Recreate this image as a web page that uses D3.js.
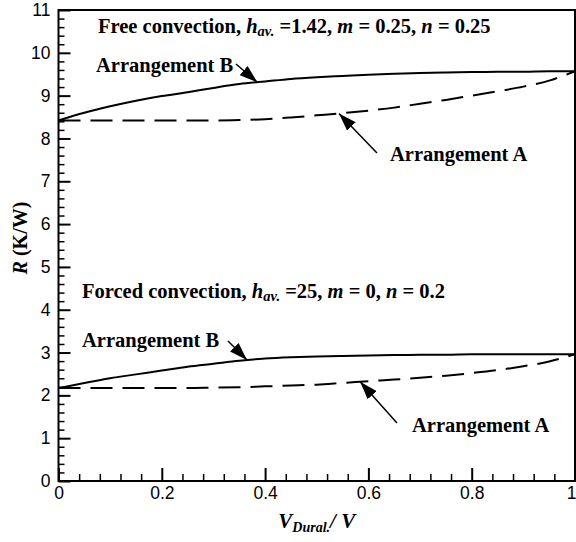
<!DOCTYPE html>
<html>
<head>
<meta charset="utf-8">
<script src="https://cdn.jsdelivr.net/npm/d3@7"></script>
<style>
  html, body { margin: 0; padding: 0; background: #fff; }
  svg { display: block; }
  .tick text { font-family: "Liberation Sans", Arial, sans-serif; font-size: 17.5px; fill: #000; }
  .serif { font-family: "Liberation Serif", "Times New Roman", serif; font-weight: bold; fill: #000; }
</style>
</head>
<body>
<svg id="chart" width="576" height="542"></svg>
<script>
// Volume fraction of Dural in the assembly
const fraction = [0, 0.05, 0.1, 0.15, 0.2, 0.25, 0.3, 0.35, 0.4, 0.45, 0.5, 0.55, 0.6, 0.65, 0.7, 0.75, 0.8, 0.85, 0.9, 0.95, 1.0];

// Thermal resistance R (K/W), free convection
const freeB = [8.42, 8.60, 8.75, 8.88, 8.99, 9.08, 9.18, 9.27, 9.33, 9.39, 9.43, 9.46, 9.49, 9.51, 9.53, 9.54, 9.55, 9.56, 9.56, 9.57, 9.57];
const freeA = [8.42, 8.42, 8.42, 8.42, 8.42, 8.42, 8.42, 8.43, 8.45, 8.49, 8.54, 8.59, 8.65, 8.72, 8.81, 8.90, 9.00, 9.10, 9.21, 9.35, 9.57];

// Thermal resistance R (K/W), forced convection
const forcedB = [2.17, 2.29, 2.40, 2.49, 2.58, 2.67, 2.74, 2.81, 2.86, 2.89, 2.91, 2.92, 2.93, 2.94, 2.95, 2.95, 2.96, 2.96, 2.96, 2.96, 2.96];
const forcedA = [2.17, 2.17, 2.17, 2.17, 2.17, 2.17, 2.18, 2.19, 2.21, 2.23, 2.25, 2.29, 2.33, 2.37, 2.41, 2.46, 2.52, 2.59, 2.68, 2.79, 2.96];

const xTicks = [0, 0.2, 0.4, 0.6, 0.8, 1];
const xTickLabels = ["0", "0.2", "0.4", "0.6", "0.8", "1"];
const yTicks = [0, 1, 2, 3, 4, 5, 6, 7, 8, 9, 10, 11];

const svg = d3.select("#chart");
const margin = { left: 58.5, right: 1, top: 10, bottom: 61 };
const W = 576, H = 542;

const x = d3.scaleLinear().domain([0, 1]).range([margin.left, W - margin.right]);
const y = d3.scaleLinear().domain([0, 11]).range([H - margin.bottom, margin.top]);

// Minor ticks (inward)
const xMinor = d3.range(0, 1.0001, 0.04).filter(v => Math.abs(v / 0.2 - Math.round(v / 0.2)) > 1e-6);
const yMinor = d3.range(0, 11.0001, 0.2).filter(v => Math.abs(v - Math.round(v)) > 1e-6);

svg.append("g")
  .attr("transform", `translate(0,${y(0)})`)
  .call(d3.axisBottom(x).tickValues(xMinor).tickSize(-7).tickFormat(""))
  .call(g => g.select(".domain").remove())
  .call(g => g.selectAll("line").attr("stroke-width", 1.5));

svg.append("g")
  .attr("transform", `translate(${x(0)},0)`)
  .call(d3.axisLeft(y).tickValues(yMinor).tickSize(-6).tickFormat(""))
  .call(g => g.select(".domain").remove())
  .call(g => g.selectAll("line").attr("stroke-width", 1.5));

// Major ticks with labels
svg.append("g")
  .attr("transform", `translate(0,${y(0)})`)
  .call(d3.axisBottom(x).tickValues(xTicks).tickSize(-13).tickPadding(6)
    .tickFormat((d, i) => xTickLabels[i]))
  .call(g => g.select(".domain").remove())
  .call(g => g.selectAll("line").attr("stroke-width", 2))
  .call(g => g.selectAll(".tick:last-of-type text").attr("text-anchor", "end").attr("dx", 1));

svg.append("g")
  .attr("transform", `translate(${x(0)},0)`)
  .call(d3.axisLeft(y).tickValues(yTicks).tickSize(-12).tickPadding(8).tickFormat(d3.format("d")))
  .call(g => g.select(".domain").remove())
  .call(g => g.selectAll("line").attr("stroke-width", 2));

// Plot frame
svg.append("rect")
  .attr("x", x(0)).attr("y", y(11))
  .attr("width", x(1) - x(0)).attr("height", y(0) - y(11))
  .attr("fill", "none").attr("stroke", "#000").attr("stroke-width", 2);

// Curves
const line = d3.line().x((d, i) => x(fraction[i])).y(d => y(d)).curve(d3.curveMonotoneX);
const series = [
  { values: freeB, dash: null },
  { values: freeA, dash: "22,10" },
  { values: forcedB, dash: null },
  { values: forcedA, dash: "22,10" }
];
svg.append("g").selectAll("path").data(series).join("path")
  .attr("d", d => line(d.values))
  .attr("fill", "none")
  .attr("stroke", "#000")
  .attr("stroke-width", 2)
  .attr("stroke-dasharray", d => d.dash);

// Arrow marker
svg.append("defs").append("marker")
  .attr("id", "head")
  .attr("viewBox", "0 0 10 10")
  .attr("refX", 10).attr("refY", 5)
  .attr("markerWidth", 18).attr("markerHeight", 12)
  .attr("markerUnits", "userSpaceOnUse")
  .attr("orient", "auto")
  .attr("preserveAspectRatio", "none")
  .append("path").attr("d", "M0,0 L10,5 L0,10 Z").attr("fill", "#000");

// Interpolated value on a series at fraction f
function valueAt(vals, f) {
  const i = Math.min(fraction.length - 2, Math.floor(f / 0.05));
  const t = (f - fraction[i]) / (fraction[i + 1] - fraction[i]);
  return vals[i] + t * (vals[i + 1] - vals[i]);
}

// Curve labels with arrows pointing to the curves
const labels = [
  { text: "Arrangement B", lx: 96, ly: 72, vals: freeB, f: 0.385, tx: 236, ty: 64 },
  { text: "Arrangement A", lx: 390, ly: 161, vals: freeA, f: 0.543, tx: 377, ty: 153 },
  { text: "Arrangement B", lx: 82, ly: 347, vals: forcedB, f: 0.365, tx: 228, ty: 341 },
  { text: "Arrangement A", lx: 412, ly: 432, vals: forcedA, f: 0.584, tx: 397, ty: 423 }
];
labels.forEach(d => {
  svg.append("text").attr("class", "serif").attr("x", d.lx).attr("y", d.ly)
    .attr("font-size", 20.5).text(d.text);
  svg.append("line")
    .attr("x1", d.tx).attr("y1", d.ty)
    .attr("x2", x(d.f)).attr("y2", y(valueAt(d.vals, d.f)))
    .attr("stroke", "#000").attr("stroke-width", 1.5)
    .attr("marker-end", "url(#head)");
});

// Case headings
function heading(xp, yp, h, m, n) {
  const t = svg.append("text").attr("class", "serif").attr("x", xp).attr("y", yp).attr("font-size", 20.5);
  t.append("tspan").text(h[0]);
  t.append("tspan").attr("font-style", "italic").text("h");
  t.append("tspan").attr("font-style", "italic").attr("font-size", 14.5).attr("dy", 3).text("av.");
  t.append("tspan").attr("dy", -3).text(" =" + h[1] + ", ");
  t.append("tspan").attr("font-style", "italic").text("m");
  t.append("tspan").text(" = " + m + ", ");
  t.append("tspan").attr("font-style", "italic").text("n");
  t.append("tspan").text(" = " + n);
}
heading(98, 33, ["Free convection, ", "1.42"], "0.25", "0.25");
heading(82, 298, ["Forced convection, ", "25"], "0", "0.2");

// Axis titles
const xt = svg.append("text").attr("class", "serif").attr("x", (x(0) + x(1)) / 2).attr("y", 528)
  .attr("text-anchor", "middle").attr("font-size", 21).attr("font-style", "italic");
xt.append("tspan").text("V");
xt.append("tspan").attr("font-size", 14).attr("dy", 4).text("Dural.");
xt.append("tspan").attr("dy", -4).text("/ V");

const yt = svg.append("text").attr("class", "serif")
  .attr("transform", `translate(27,238) rotate(-90)`)
  .attr("text-anchor", "middle").attr("font-size", 20);
yt.append("tspan").attr("font-style", "italic").text("R");
yt.append("tspan").text(" (K/W)");
</script>
</body>
</html>
